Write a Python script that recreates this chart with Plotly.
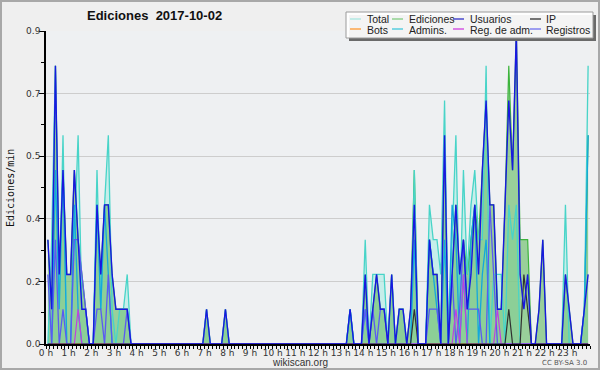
import plotly.graph_objects as go

# ---------------- data (edits per minute, 10-minute bins, 6 per hour) ----------------
x_tick_labels = ["0 h", "1 h", "2 h", "3 h", "4 h", "5 h", "6 h", "7 h", "8 h", "9 h", "10 h", "11 h",
                 "12 h", "13 h", "14 h", "15 h", "16 h", "17 h", "18 h", "19 h", "20 h", "21 h", "22 h", "23 h"]
y_tick_vals = [0.0, 0.18, 0.36, 0.54, 0.72, 0.9]
y_tick_labels = ["0.0", "0.2", "0.4", "0.5", "0.7", "0.9"]

total = [
    0.0, 0.3, 0.8, 0.1, 0.6, 0.0,   # 0 h
    0.0, 0.3, 0.6, 0.1, 0.1, 0.0,   # 1 h
    0.0, 0.5, 0.1, 0.4, 0.6, 0.1,   # 2 h
    0.0, 0.1, 0.1, 0.2, 0.0, 0.0,   # 3 h
    0.0, 0.0, 0.0, 0.0, 0.0, 0.0,   # 4 h
    0.0, 0.0, 0.0, 0.0, 0.0, 0.0,   # 5 h
    0.0, 0.0, 0.0, 0.0, 0.0, 0.0,   # 6 h
    0.1, 0.0, 0.0, 0.0, 0.0, 0.1,   # 7 h
    0.0, 0.0, 0.0, 0.0, 0.0, 0.0,   # 8 h
    0.0, 0.0, 0.0, 0.0, 0.0, 0.0,   # 9 h
    0.0, 0.0, 0.0, 0.0, 0.0, 0.0,   # 10 h
    0.0, 0.0, 0.0, 0.0, 0.0, 0.0,   # 11 h
    0.0, 0.0, 0.0, 0.0, 0.0, 0.0,   # 12 h
    0.0, 0.0, 0.1, 0.0, 0.0, 0.0,   # 13 h
    0.3, 0.0, 0.2, 0.2, 0.2, 0.2,   # 14 h
    0.0, 0.2, 0.0, 0.1, 0.1, 0.0,   # 15 h
    0.0, 0.5, 0.0, 0.0, 0.0, 0.4,   # 16 h
    0.3, 0.3, 0.2, 0.7, 0.0, 0.3,   # 17 h
    0.6, 0.1, 0.5, 0.2, 0.4, 0.5,   # 18 h
    0.3, 0.3, 0.8, 0.0, 0.2, 0.2,   # 19 h
    0.2, 0.0, 0.4, 0.3, 0.4, 0.0,   # 20 h
    0.0, 0.0, 0.0, 0.0, 0.0, 0.0,   # 21 h
    0.0, 0.0, 0.0, 0.0, 0.0, 0.4,   # 22 h
    0.0, 0.0, 0.0, 0.0, 0.1, 0.8,   # 23 h
]

ediciones = [
    0.3, 0.1, 0.8, 0.2, 0.5, 0.2,
    0.2, 0.5, 0.3, 0.2, 0.1, 0.0,
    0.0, 0.4, 0.2, 0.4, 0.4, 0.2,
    0.1, 0.1, 0.1, 0.1, 0.0, 0.0,
    0.0, 0.0, 0.0, 0.0, 0.0, 0.0,
    0.0, 0.0, 0.0, 0.0, 0.0, 0.0,
    0.0, 0.0, 0.0, 0.0, 0.0, 0.0,
    0.1, 0.0, 0.0, 0.0, 0.0, 0.1,
    0.0, 0.0, 0.0, 0.0, 0.0, 0.0,
    0.0, 0.0, 0.0, 0.0, 0.0, 0.0,
    0.0, 0.0, 0.0, 0.0, 0.0, 0.0,
    0.0, 0.0, 0.0, 0.0, 0.0, 0.0,
    0.0, 0.0, 0.0, 0.0, 0.0, 0.0,
    0.0, 0.0, 0.1, 0.0, 0.0, 0.0,
    0.2, 0.0, 0.1, 0.2, 0.1, 0.1,
    0.0, 0.2, 0.0, 0.1, 0.1, 0.0,
    0.1, 0.5, 0.0, 0.0, 0.0, 0.3,
    0.2, 0.2, 0.0, 0.6, 0.0, 0.2,
    0.4, 0.2, 0.3, 0.2, 0.3, 0.4,
    0.3, 0.5, 0.7, 0.4, 0.4, 0.1,
    0.1, 0.4, 0.8, 0.5, 0.9, 0.3,
    0.3, 0.3, 0.0, 0.0, 0.1, 0.3,
    0.0, 0.0, 0.0, 0.0, 0.0, 0.2,
    0.1, 0.0, 0.0, 0.0, 0.1, 0.6,
]

usuarios = [
    0.3, 0.1, 0.8, 0.2, 0.5, 0.2,
    0.2, 0.5, 0.3, 0.1, 0.1, 0.0,
    0.0, 0.4, 0.2, 0.4, 0.4, 0.2,
    0.1, 0.1, 0.1, 0.1, 0.0, 0.0,
    0.0, 0.0, 0.0, 0.0, 0.0, 0.0,
    0.0, 0.0, 0.0, 0.0, 0.0, 0.0,
    0.0, 0.0, 0.0, 0.0, 0.0, 0.0,
    0.1, 0.0, 0.0, 0.0, 0.0, 0.1,
    0.0, 0.0, 0.0, 0.0, 0.0, 0.0,
    0.0, 0.0, 0.0, 0.0, 0.0, 0.0,
    0.0, 0.0, 0.0, 0.0, 0.0, 0.0,
    0.0, 0.0, 0.0, 0.0, 0.0, 0.0,
    0.0, 0.0, 0.0, 0.0, 0.0, 0.0,
    0.0, 0.0, 0.1, 0.0, 0.0, 0.0,
    0.2, 0.0, 0.1, 0.2, 0.1, 0.1,
    0.0, 0.2, 0.0, 0.1, 0.1, 0.0,
    0.1, 0.4, 0.0, 0.0, 0.0, 0.3,
    0.2, 0.2, 0.0, 0.6, 0.0, 0.2,
    0.4, 0.2, 0.3, 0.1, 0.2, 0.4,
    0.2, 0.5, 0.7, 0.4, 0.4, 0.1,
    0.1, 0.4, 0.7, 0.5, 0.9, 0.2,
    0.1, 0.2, 0.0, 0.0, 0.1, 0.3,
    0.0, 0.0, 0.0, 0.0, 0.0, 0.2,
    0.1, 0.0, 0.0, 0.0, 0.1, 0.2,
]

ip = [
    0.0, 0.0, 0.0, 0.0, 0.0, 0.0,
    0.0, 0.0, 0.0, 0.0, 0.0, 0.0,
    0.0, 0.0, 0.0, 0.0, 0.0, 0.0,
    0.0, 0.0, 0.0, 0.0, 0.0, 0.0,
    0.0, 0.0, 0.0, 0.0, 0.0, 0.0,
    0.0, 0.0, 0.0, 0.0, 0.0, 0.0,
    0.0, 0.0, 0.0, 0.0, 0.0, 0.0,
    0.0, 0.0, 0.0, 0.0, 0.0, 0.0,
    0.0, 0.0, 0.0, 0.0, 0.0, 0.0,
    0.0, 0.0, 0.0, 0.0, 0.0, 0.0,
    0.0, 0.0, 0.0, 0.0, 0.0, 0.0,
    0.0, 0.0, 0.0, 0.0, 0.0, 0.0,
    0.0, 0.0, 0.0, 0.0, 0.0, 0.0,
    0.0, 0.0, 0.0, 0.0, 0.0, 0.0,
    0.0, 0.0, 0.0, 0.0, 0.0, 0.0,
    0.0, 0.0, 0.0, 0.0, 0.0, 0.0,
    0.0, 0.1, 0.0, 0.0, 0.0, 0.0,
    0.0, 0.0, 0.0, 0.0, 0.0, 0.0,
    0.0, 0.0, 0.0, 0.0, 0.0, 0.0,
    0.0, 0.0, 0.0, 0.0, 0.0, 0.0,
    0.0, 0.0, 0.1, 0.0, 0.0, 0.0,
    0.2, 0.1, 0.0, 0.0, 0.0, 0.0,
    0.0, 0.0, 0.0, 0.0, 0.0, 0.0,
    0.0, 0.0, 0.0, 0.0, 0.0, 0.0,
]

bots = [
    0.0, 0.0, 0.0, 0.0, 0.0, 0.0,
    0.0, 0.0, 0.0, 0.0, 0.0, 0.0,
    0.0, 0.0, 0.0, 0.0, 0.0, 0.0,
    0.0, 0.0, 0.0, 0.0, 0.0, 0.0,
    0.0, 0.0, 0.0, 0.0, 0.0, 0.0,
    0.0, 0.0, 0.0, 0.0, 0.0, 0.0,
    0.0, 0.0, 0.0, 0.0, 0.0, 0.0,
    0.0, 0.0, 0.0, 0.0, 0.0, 0.0,
    0.0, 0.0, 0.0, 0.0, 0.0, 0.0,
    0.0, 0.0, 0.0, 0.0, 0.0, 0.0,
    0.0, 0.0, 0.0, 0.0, 0.0, 0.0,
    0.0, 0.0, 0.0, 0.0, 0.0, 0.0,
    0.0, 0.0, 0.0, 0.0, 0.0, 0.0,
    0.0, 0.0, 0.0, 0.0, 0.0, 0.0,
    0.0, 0.0, 0.0, 0.0, 0.0, 0.0,
    0.0, 0.0, 0.0, 0.0, 0.0, 0.0,
    0.0, 0.0, 0.0, 0.0, 0.0, 0.0,
    0.0, 0.0, 0.0, 0.0, 0.0, 0.0,
    0.0, 0.0, 0.0, 0.0, 0.0, 0.0,
    0.0, 0.0, 0.0, 0.0, 0.0, 0.0,
    0.0, 0.0, 0.0, 0.0, 0.0, 0.0,
    0.0, 0.0, 0.0, 0.0, 0.0, 0.0,
    0.0, 0.0, 0.0, 0.0, 0.0, 0.0,
    0.0, 0.0, 0.0, 0.0, 0.0, 0.0,
]

admins = [
    0.0, 0.0, 0.5, 0.1, 0.5, 0.0,
    0.0, 0.4, 0.1, 0.0, 0.0, 0.0,
    0.0, 0.4, 0.1, 0.4, 0.2, 0.0,
    0.0, 0.0, 0.0, 0.0, 0.0, 0.0,
    0.0, 0.0, 0.0, 0.0, 0.0, 0.0,
    0.0, 0.0, 0.0, 0.0, 0.0, 0.0,
    0.0, 0.0, 0.0, 0.0, 0.0, 0.0,
    0.0, 0.0, 0.0, 0.0, 0.0, 0.0,
    0.0, 0.0, 0.0, 0.0, 0.0, 0.0,
    0.0, 0.0, 0.0, 0.0, 0.0, 0.0,
    0.0, 0.0, 0.0, 0.0, 0.0, 0.0,
    0.0, 0.0, 0.0, 0.0, 0.0, 0.0,
    0.0, 0.0, 0.0, 0.0, 0.0, 0.0,
    0.0, 0.0, 0.1, 0.0, 0.0, 0.0,
    0.1, 0.0, 0.0, 0.0, 0.0, 0.0,
    0.0, 0.0, 0.0, 0.0, 0.0, 0.0,
    0.0, 0.3, 0.0, 0.0, 0.0, 0.3,
    0.2, 0.1, 0.0, 0.3, 0.0, 0.4,
    0.3, 0.0, 0.2, 0.0, 0.3, 0.4,
    0.0, 0.2, 0.3, 0.0, 0.0, 0.0,
    0.0, 0.0, 0.0, 0.0, 0.0, 0.0,
    0.0, 0.0, 0.0, 0.0, 0.0, 0.0,
    0.0, 0.0, 0.0, 0.0, 0.0, 0.0,
    0.0, 0.0, 0.0, 0.0, 0.1, 0.6,
]

reg_adm = [
    0.0, 0.0, 0.0, 0.0, 0.0, 0.0,
    0.0, 0.0, 0.1, 0.0, 0.0, 0.0,
    0.0, 0.0, 0.0, 0.0, 0.0, 0.0,
    0.0, 0.0, 0.0, 0.0, 0.0, 0.0,
    0.0, 0.0, 0.0, 0.0, 0.0, 0.0,
    0.0, 0.0, 0.0, 0.0, 0.0, 0.0,
    0.0, 0.0, 0.0, 0.0, 0.0, 0.0,
    0.0, 0.0, 0.0, 0.0, 0.0, 0.0,
    0.0, 0.0, 0.0, 0.0, 0.0, 0.0,
    0.0, 0.0, 0.0, 0.0, 0.0, 0.0,
    0.0, 0.0, 0.0, 0.0, 0.0, 0.0,
    0.0, 0.0, 0.0, 0.0, 0.0, 0.0,
    0.0, 0.0, 0.0, 0.0, 0.0, 0.0,
    0.0, 0.0, 0.0, 0.0, 0.0, 0.0,
    0.0, 0.0, 0.0, 0.0, 0.0, 0.0,
    0.0, 0.0, 0.0, 0.0, 0.0, 0.0,
    0.0, 0.0, 0.0, 0.0, 0.0, 0.0,
    0.0, 0.0, 0.0, 0.0, 0.0, 0.0,
    0.1, 0.0, 0.2, 0.0, 0.0, 0.0,
    0.0, 0.0, 0.0, 0.0, 0.0, 0.1,
    0.0, 0.0, 0.0, 0.0, 0.0, 0.0,
    0.0, 0.0, 0.0, 0.0, 0.0, 0.0,
    0.0, 0.0, 0.0, 0.0, 0.0, 0.0,
    0.0, 0.0, 0.0, 0.0, 0.0, 0.0,
]

registros = [
    0.2, 0.0, 0.3, 0.0, 0.1, 0.0,
    0.0, 0.3, 0.3, 0.2, 0.1, 0.0,
    0.0, 0.1, 0.1, 0.0, 0.2, 0.0,
    0.0, 0.0, 0.0, 0.1, 0.0, 0.0,
    0.0, 0.0, 0.0, 0.0, 0.0, 0.0,
    0.0, 0.0, 0.0, 0.0, 0.0, 0.0,
    0.0, 0.0, 0.0, 0.0, 0.0, 0.0,
    0.0, 0.0, 0.0, 0.0, 0.0, 0.0,
    0.0, 0.0, 0.0, 0.0, 0.0, 0.0,
    0.0, 0.0, 0.0, 0.0, 0.0, 0.0,
    0.0, 0.0, 0.0, 0.0, 0.0, 0.0,
    0.0, 0.0, 0.0, 0.0, 0.0, 0.0,
    0.0, 0.0, 0.0, 0.0, 0.0, 0.0,
    0.0, 0.0, 0.0, 0.0, 0.0, 0.0,
    0.1, 0.0, 0.1, 0.0, 0.1, 0.1,
    0.0, 0.0, 0.0, 0.0, 0.0, 0.0,
    0.0, 0.0, 0.0, 0.0, 0.0, 0.1,
    0.1, 0.1, 0.0, 0.0, 0.0, 0.2,
    0.0, 0.1, 0.3, 0.1, 0.1, 0.1,
    0.1, 0.0, 0.0, 0.4, 0.2, 0.0,
    0.0, 0.0, 0.0, 0.0, 0.0, 0.0,
    0.0, 0.0, 0.0, 0.0, 0.0, 0.0,
    0.0, 0.0, 0.0, 0.0, 0.0, 0.0,
    0.0, 0.0, 0.0, 0.0, 0.0, 0.0,
]

# bin centres, in hours
bin_hours = [(i + 0.5) / 6 for i in range(len(total))]

# ---------------- styling ----------------
W, H = 600, 370
ML, MR, MT, MB = 46, 10, 31, 26
PW, PH = W - ML - MR, H - MT - MB


def px(x):
    return (x - ML) / PW


def py(y):
    return (H - MB - y) / PH


C_TOTAL_FILL = "rgba(172,236,228,0.6)"
C_TOTAL = "#48d4c8"
C_EDI = "#3cb43c"
C_EDI_FILL = "rgba(112,192,112,0.68)"
C_USU = "#1818e0"
C_IP = "#303030"
C_BOTS = "#ff9a30"
C_ADM = "#14a8dc"
C_RADM = "#c040e0"
C_REG = "#5a5af2"

fig = go.Figure()
fig.add_trace(go.Scatter(x=bin_hours, y=total, mode="lines", line=dict(width=0, color=C_TOTAL),
                         fill="tozeroy", fillcolor=C_TOTAL_FILL, showlegend=False, hoverinfo="skip"))
fig.add_trace(go.Scatter(x=bin_hours, y=ediciones, mode="lines", line=dict(width=1.2, color=C_EDI),
                         fill="tozeroy", fillcolor=C_EDI_FILL, name="Ediciones", showlegend=False))
fig.add_trace(go.Scatter(x=bin_hours, y=total, mode="lines", line=dict(width=1.3, color=C_TOTAL),
                         name="Total", showlegend=False))
fig.add_trace(go.Scatter(x=bin_hours, y=bots, mode="lines", line=dict(width=1.2, color=C_BOTS),
                         name="Bots", showlegend=False))
fig.add_trace(go.Scatter(x=bin_hours, y=admins, mode="lines", line=dict(width=1.3, color=C_ADM),
                         name="Admins.", showlegend=False))
fig.add_trace(go.Scatter(x=bin_hours, y=registros, mode="lines", line=dict(width=1.3, color=C_REG),
                         name="Registros", showlegend=False))
fig.add_trace(go.Scatter(x=bin_hours, y=reg_adm, mode="lines", line=dict(width=1.2, color=C_RADM),
                         name="Reg. de adm.", showlegend=False))
fig.add_trace(go.Scatter(x=bin_hours, y=ip, mode="lines", line=dict(width=1.2, color=C_IP),
                         name="IP", showlegend=False))
fig.add_trace(go.Scatter(x=bin_hours, y=usuarios, mode="lines", line=dict(width=1.4, color=C_USU),
                         name="Usuarios", showlegend=False))

shapes = []
annotations = []

# outer frame
shapes.append(dict(type="rect", xref="paper", yref="paper", x0=px(1), x1=px(599), y0=py(369), y1=py(1),
                   line=dict(color="#a8a8a8", width=2), layer="above"))

# manual legend
shapes.append(dict(type="rect", xref="paper", yref="paper", x0=px(349), x1=px(596), y0=py(41), y1=py(15),
                   fillcolor="#6a6a6a", line=dict(width=0), layer="above"))
shapes.append(dict(type="rect", xref="paper", yref="paper", x0=px(346), x1=px(593), y0=py(38), y1=py(12),
                   fillcolor="rgba(255,255,255,0.93)", line=dict(color="#9a9a9a", width=1), layer="above"))

legend_items = [
    ("Total", "#a8e6e0", 350, 366, 19), ("Ediciones", "#80cc80", 392, 408, 19),
    ("Usuarios", "#3030c8", 453, 469, 19), ("IP", "#303030", 530, 545, 19),
    ("Bots", "#ff9a30", 350, 366, 29), ("Admins.", "#40c8dc", 392, 408, 29),
    ("Reg. de adm.", "#d040e0", 453, 469, 29), ("Registros", "#7070ee", 530, 545, 29),
]
for name, col, lx, tx, ly in legend_items:
    shapes.append(dict(type="line", xref="paper", yref="paper", x0=px(lx), x1=px(lx + 11),
                       y0=py(ly), y1=py(ly), line=dict(color=col, width=1.3), layer="above"))
    annotations.append(dict(text=name, xref="paper", yref="paper", x=px(tx - 1), y=py(ly + 0.5),
                            xanchor="left", yanchor="middle", showarrow=False,
                            font=dict(family="Liberation Sans", size=10.5, color="#222222")))

# title
annotations.append(dict(text="<b>Ediciones&nbsp;&nbsp;2017-10-02</b>", xref="paper", yref="paper",
                        x=px(154), y=py(16), xanchor="center", yanchor="middle", showarrow=False,
                        font=dict(family="Liberation Sans", size=13, color="#111111")))
# y axis title
annotations.append(dict(text="Ediciones/min", xref="paper", yref="paper", x=px(10), y=py(188),
                        xanchor="center", yanchor="middle", textangle=-90, showarrow=False,
                        font=dict(family="DejaVu Sans Mono", size=10, color="#111111")))
# footer
annotations.append(dict(text="wikiscan.org", xref="paper", yref="paper", x=px(300), y=py(362),
                        xanchor="center", yanchor="middle", showarrow=False,
                        font=dict(family="Liberation Sans", size=10, color="#333333")))
annotations.append(dict(text="CC BY-SA 3.0", xref="paper", yref="paper", x=px(589), y=py(363),
                        xanchor="right", yanchor="middle", showarrow=False,
                        font=dict(family="DejaVu Sans", size=7, color="#555555")))

fig.update_layout(
    width=W, height=H,
    margin=dict(l=ML, r=MR, t=MT, b=MB, pad=0),
    paper_bgcolor="#efefef",
    plot_bgcolor="#eef0f2",
    showlegend=False,
    shapes=shapes,
    annotations=annotations,
    xaxis=dict(
        range=[0, 24], showline=True, linecolor="black", linewidth=1.5,
        tickvals=list(range(24)), ticktext=x_tick_labels, ticks="outside", ticklen=3,
        tickcolor="black", tickwidth=1, showgrid=False, zeroline=False, ticklabelstandoff=-4,
        tickfont=dict(family="DejaVu Sans", size=9, color="#333333"),
        minor=dict(dtick=1 / 6, tick0=0, ticks="outside", ticklen=3, tickcolor="black", showgrid=False),
    ),
    yaxis=dict(
        range=[0, 0.9], showline=True, linecolor="black", linewidth=1.5,
        tickvals=y_tick_vals, ticktext=y_tick_labels, ticks="outside", ticklen=5,
        tickcolor="black", tickwidth=1, showgrid=True, gridcolor="#cdcdcd", gridwidth=1,
        zeroline=False, ticklabelstandoff=-3, tickfont=dict(family="DejaVu Sans", size=9, color="#333333"),
        minor=dict(tickvals=[0.09, 0.27, 0.45, 0.63, 0.81], ticks="outside", ticklen=3,
                   tickcolor="black", showgrid=False),
    ),
)

fig.write_html("out.html", config={"displayModeBar": False},
               post_script="document.body.style.margin='0';")
